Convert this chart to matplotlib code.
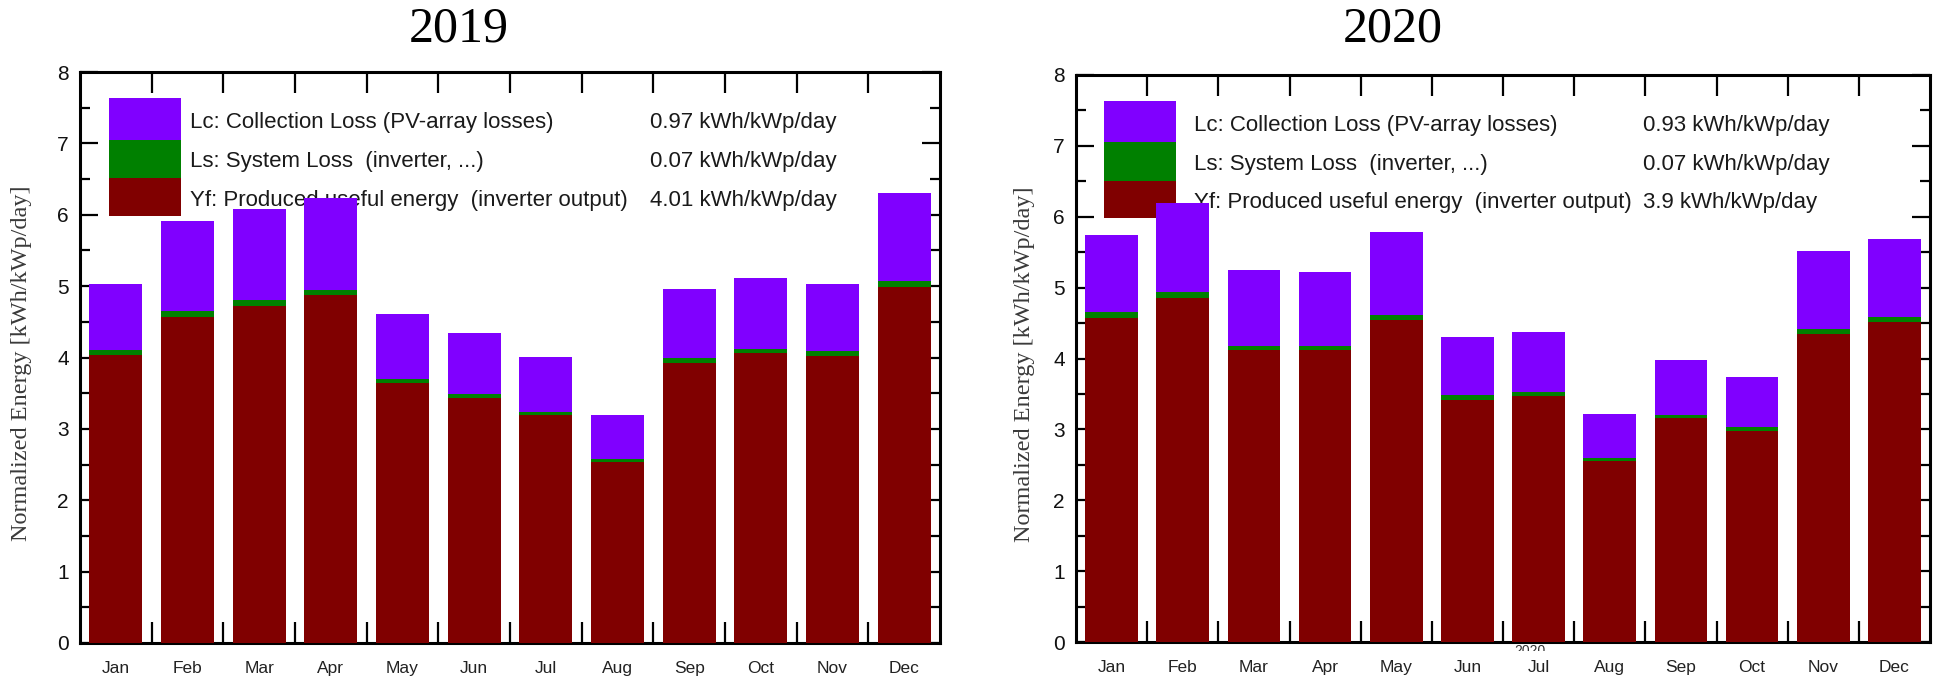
import matplotlib
matplotlib.use("Agg")
import matplotlib.pyplot as plt
import numpy as np
from matplotlib.patches import Rectangle
from matplotlib.transforms import Bbox, TransformedBbox

# ---- monthly normalized energy [kWh/kWp/day] ----
months = ["Jan", "Feb", "Mar", "Apr", "May", "Jun",
          "Jul", "Aug", "Sep", "Oct", "Nov", "Dec"]

yf_2019 = [4.04, 4.57, 4.72, 4.87, 3.64, 3.43, 3.19, 2.53, 3.92, 4.06, 4.02, 4.99]
ls_2019 = [0.06, 0.08, 0.08, 0.07, 0.06, 0.06, 0.05, 0.05, 0.07, 0.06, 0.07, 0.08]
lc_2019 = [0.93, 1.26, 1.28, 1.30, 0.91, 0.85, 0.77, 0.61, 0.97, 0.99, 0.94, 1.23]

yf_2020 = [4.57, 4.86, 4.12, 4.12, 4.54, 3.42, 3.47, 2.55, 3.16, 2.98, 4.35, 4.51]
ls_2020 = [0.08, 0.08, 0.06, 0.06, 0.08, 0.06, 0.06, 0.05, 0.04, 0.05, 0.06, 0.08]
lc_2020 = [1.09, 1.26, 1.07, 1.04, 1.17, 0.83, 0.84, 0.62, 0.78, 0.71, 1.10, 1.09]

# yearly averages quoted in the key
summary_2019 = ["0.97", "0.07", "4.01"]
summary_2020 = ["0.93", "0.07", "3.9"]

key_labels = ["Lc: Collection Loss (PV-array losses)",
              "Ls: System Loss  (inverter, ...)",
              "Yf: Produced useful energy  (inverter output)"]

C_LC = "#8000ff"
C_LS = "#008000"
C_YF = "#800000"

SANS = "Liberation Sans"
SERIF = "Liberation Serif"

fig = plt.figure(figsize=(19.42, 6.83), dpi=100)
W, H = 1942.0, 683.0


def panel(rect, yf, ls, lc, summary, text_x, value_x, ylab_x):
    ax = fig.add_axes(rect)
    x = np.arange(len(months))
    yf = np.asarray(yf)
    ls = np.asarray(ls)
    lc = np.asarray(lc)
    bw = 0.74
    ax.bar(x, yf, bw, color=C_YF, zorder=3, linewidth=0)
    ax.bar(x, ls, bw, bottom=yf, color=C_LS, zorder=3, linewidth=0)
    ax.bar(x, lc, bw, bottom=yf + ls, color=C_LC, zorder=3, linewidth=0)

    ax.set_xlim(-0.5, 11.5)
    ax.set_ylim(0, 8)

    # key: stacked colour swatch plus text rows
    sw_x0, sw_x1 = -0.10, 0.91
    for (y0, y1), col in zip([(5.98, 6.51), (6.51, 7.05), (7.05, 7.63)],
                             [C_YF, C_LS, C_LC]):
        ax.add_patch(Rectangle((sw_x0, y0), sw_x1 - sw_x0, y1 - y0,
                               facecolor=col, edgecolor="none", zorder=2))
    for lab, val, yy in zip(key_labels, summary, [7.29, 6.74, 6.20]):
        ax.text(text_x, yy, lab, fontsize=16, family=SANS, color="#1a1a1a",
                va="center", ha="left", zorder=2)
        ax.text(value_x, yy, f"{val} kWh/kWp/day", fontsize=16, family=SANS,
                color="#1a1a1a", va="center", ha="left", zorder=2)

    # axes frame and ticks
    for sp in ax.spines.values():
        sp.set_linewidth(2.2)
        sp.set_color("black")
    ax.set_xticks(x)
    ax.set_xticklabels(months, fontsize=12.5, family=SANS, color="#222222")
    ax.set_xticks(np.arange(0.5, 11.0, 1.0), minor=True)
    ax.tick_params(axis="x", which="major", length=0, pad=13)
    ax.tick_params(axis="x", which="minor", direction="in", length=15,
                   width=1.6, top=True, bottom=True, color="black")
    ax.set_yticks(np.arange(0, 9, 1))
    ax.set_yticklabels([str(v) for v in range(9)], fontsize=15, family=SANS,
                       color="#111111")
    ax.set_yticks(np.arange(0.5, 8, 1.0), minor=True)
    ax.tick_params(axis="y", which="major", direction="in", length=13,
                   width=1.6, left=True, right=True, pad=8)
    ax.tick_params(axis="y", which="minor", direction="in", length=7,
                   width=1.6, left=True, right=True)

    ax.set_ylabel("Normalized Energy [kWh/kWp/day]", fontsize=17.5,
                  family=SERIF, color="#3a3a3a")
    ax.yaxis.set_label_coords(ylab_x, 0.49)
    return ax


ax1 = panel([80 / W, 40 / H, 860 / W, 571 / H],
            yf_2019, ls_2019, lc_2019, summary_2019,
            text_x=1.035, value_x=7.45, ylab_x=-0.056)
ax2 = panel([1076 / W, 41 / H, 854 / W, 567 / H],
            yf_2020, ls_2020, lc_2020, summary_2020,
            text_x=1.16, value_x=7.47, ylab_x=-0.048)

# year headings
fig.text(459 / W, 1 - 29 / H, "2019", fontsize=36, family=SERIF,
         ha="center", va="center", color="black")
fig.text(1393 / W, 1 - 29 / H, "2020", fontsize=36, family=SERIF,
         ha="center", va="center", color="black")

# small stray year label under the second axis, mostly hidden
stray = fig.text(1530 / W, 1 - 658 / H, "2020", fontsize=10, family=SANS,
                 ha="center", va="bottom", color="#333333")
stray.set_clip_box(TransformedBbox(Bbox([[1480 / W, 1 - 651 / H],
                                         [1580 / W, 1 - 644 / H]]),
                                   fig.transFigure))
stray.set_clip_on(True)

fig.savefig("out.png", dpi=100)
